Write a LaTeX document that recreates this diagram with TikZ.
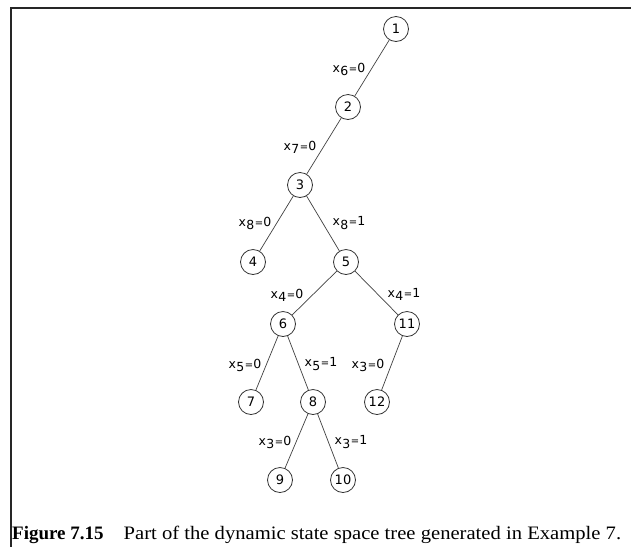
\documentclass[tikz,border=0pt]{standalone}
\usepackage{graphicx}
\usepackage{fontspec}
\setmainfont{Liberation Serif}
\setsansfont{DejaVu Sans}
\newcommand{\xsub}[2]{x\kern0.3pt\raisebox{-0.45ex}{#1}\kern0.5pt\scalebox{0.8}{=}\kern0.3pt#2}
\begin{document}
\begin{tikzpicture}[x=1pt,y=-1pt,
  st/.style={draw=black!80,circle,minimum size=25pt,inner sep=0pt,line width=0.8pt,font=\sffamily\fontsize{13}{13}\selectfont},
  br/.style={draw=black!75,line width=0.7pt},
  lb/.style={inner sep=0pt,font=\sffamily\fontsize{12.5}{12.5}\selectfont}]
\useasboundingbox (0,0) rectangle (631,547);
\fill[white] (0,0) rectangle (631,547);
% frame
\coordinate (ftl) at (11,8);
\coordinate (ftr) at (631,8);
\coordinate (fbl) at (11,547);
\draw[line width=2.2pt,black!85] (ftr) -- (ftl) -- (fbl);
% nodes
\node[st] (n1) at (396,29) {1};
\node[st] (n2) at (348,107) {2};
\node[st] (n3) at (300,185) {3};
\node[st] (n4) at (253,262) {4};
\node[st] (n5) at (346,262) {5};
\node[st] (n6) at (283,324) {6};
\node[st] (n11) at (407,324) {11};
\node[st] (n7) at (251,402) {7};
\node[st] (n8) at (313,402) {8};
\node[st] (n12) at (377,402) {12};
\node[st] (n9) at (280,480) {9};
\node[st] (n10) at (343,480) {10};
% edges
\draw[br] (n1) -- (n2);
\draw[br] (n2) -- (n3);
\draw[br] (n3) -- (n4);
\draw[br] (n3) -- (n5);
\draw[br] (n5) -- (n6);
\draw[br] (n5) -- (n11);
\draw[br] (n6) -- (n7);
\draw[br] (n6) -- (n8);
\draw[br] (n11) -- (n12);
\draw[br] (n8) -- (n9);
\draw[br] (n8) -- (n10);
% labels
\node[lb] (l1) at (349,69) {\xsub{6}{0}};
\node[lb] (l2) at (300,147) {\xsub{7}{0}};
\node[lb] (l3) at (255,223) {\xsub{8}{0}};
\node[lb] (l4) at (349,223) {\xsub{8}{1}};
\node[lb] (l5) at (287,295) {\xsub{4}{0}};
\node[lb] (l6) at (404,294) {\xsub{4}{1}};
\node[lb] (l7) at (245,365) {\xsub{5}{0}};
\node[lb] (l8) at (321,364) {\xsub{5}{1}};
\node[lb] (l9) at (368,365) {\xsub{3}{0}};
\node[lb] (l10) at (275,442) {\xsub{3}{0}};
\node[lb] (l11) at (351,442) {\xsub{3}{1}};
% caption
\node[anchor=base west,inner sep=0pt,font=\fontsize{19}{19}\selectfont] (cap) at (12,539)
  {\textbf{Figure 7.15}\hspace{20pt}\scalebox{1.085}[1]{Part of the dynamic state space tree generated in Example 7.}};
\end{tikzpicture}
\end{document}
